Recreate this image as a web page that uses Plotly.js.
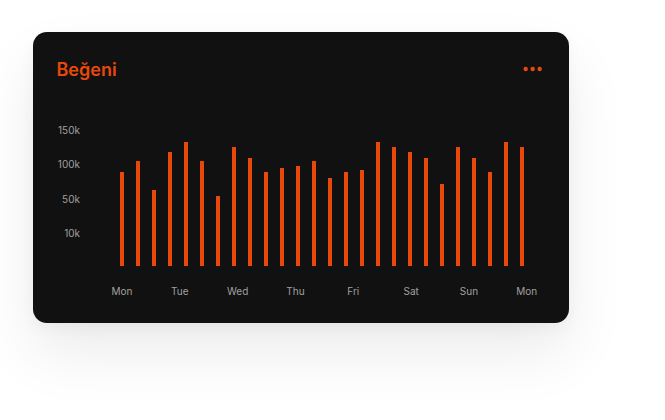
<!DOCTYPE html>
<html>
<head>
<meta charset="utf-8">
<script src="https://cdn.plot.ly/plotly-3.0.1.min.js"></script>
<style>
  html, body { margin: 0; padding: 0; background: #ffffff; }
  body { width: 665px; height: 420px; position: relative; overflow: hidden; }
  #card {
    position: absolute; left: 33px; top: 32px; width: 536px; height: 291px;
    background: #111111; border-radius: 14px;
    box-shadow: 0 30px 60px rgba(0,0,0,0.08), 0 6px 16px rgba(0,0,0,0.04);
  }
  #chart { position: absolute; left: 0; top: 0; width: 665px; height: 420px; }
</style>
</head>
<body>
<div id="card"></div>
<div id="chart"></div>
<script>
// Daily likes (thousands), one bar per slot
const likes = [90, 106, 63, 119, 134, 106, 55, 126, 110, 90, 96, 98, 106,
               81, 90, 93, 134, 126, 119, 110, 72, 126, 110, 90, 134, 126];
const dayLabels = ['Mon', 'Tue', 'Wed', 'Thu', 'Fri', 'Sat', 'Sun', 'Mon'];
const yTickVals = [0, 50, 100, 150];
const yTickText = ['10k', '50k', '100k', '150k'];

const ORANGE = '#E8490B';
const GREY = '#a0a0a0';
const W = 665, H = 420;
const M = { l: 100, r: 130, t: 120, b: 154 };
const yFloor = -47.8;   // value sitting on the bar baseline
const yTop = 165.6;

const slots = likes.map((_, i) => i);
const lastSlot = slots[slots.length - 1];
const dayTickPos = dayLabels.map((_, i) => i * (lastSlot + 0.3) / (dayLabels.length - 1));

const trace = {
  type: 'bar',
  x: slots,
  y: likes.map(v => v - yFloor),
  base: yFloor,
  width: 0.25,
  marker: { color: ORANGE },
  hoverinfo: 'skip'
};

// helpers to place header decorations in pixel terms
const pw = W - M.l - M.r, ph = H - M.t - M.b;
const px = x => (x - M.l) / pw;
const py = y => (H - M.b - y) / ph;
const dots = [525.7, 532.7, 539.7].map(cx => ({
  type: 'circle', xref: 'paper', yref: 'paper',
  x0: px(cx - 2.2), x1: px(cx + 2.2), y0: py(69 + 2.2), y1: py(69 - 2.2),
  fillcolor: ORANGE, line: { width: 0 }
}));

const layout = {
  width: W, height: H,
  margin: M,
  paper_bgcolor: 'rgba(0,0,0,0)',
  plot_bgcolor: 'rgba(0,0,0,0)',
  showlegend: false,
  font: { family: 'Inter, Roboto, sans-serif', color: GREY, size: 10 },
  title: {
    text: 'Beğeni',
    font: { family: 'Inter, Roboto, sans-serif', size: 18, color: ORANGE, weight: 600 },
    xref: 'container', yref: 'container',
    x: 56.5 / W, xanchor: 'left',
    y: 1 - 70 / H, yanchor: 'middle'
  },
  xaxis: {
    range: [(M.l - 122) / 16, (W - M.r - 122) / 16],
    tickmode: 'array', tickvals: dayTickPos, ticktext: dayLabels,
    showgrid: false, zeroline: false, showline: false, ticks: '',
    ticklabelstandoff: 18,
    tickfont: { size: 10, color: GREY },
    fixedrange: true
  },
  yaxis: {
    range: [yFloor, yTop],
    tickmode: 'array', tickvals: yTickVals, ticktext: yTickText,
    showgrid: false, zeroline: false, showline: false, ticks: '',
    ticklabelstandoff: 19,
    tickfont: { size: 10, color: GREY },
    fixedrange: true
  },
  shapes: dots,
  bargap: 0
};

Plotly.newPlot('chart', [trace], layout, { displayModeBar: false, staticPlot: true });
</script>
</body>
</html>
